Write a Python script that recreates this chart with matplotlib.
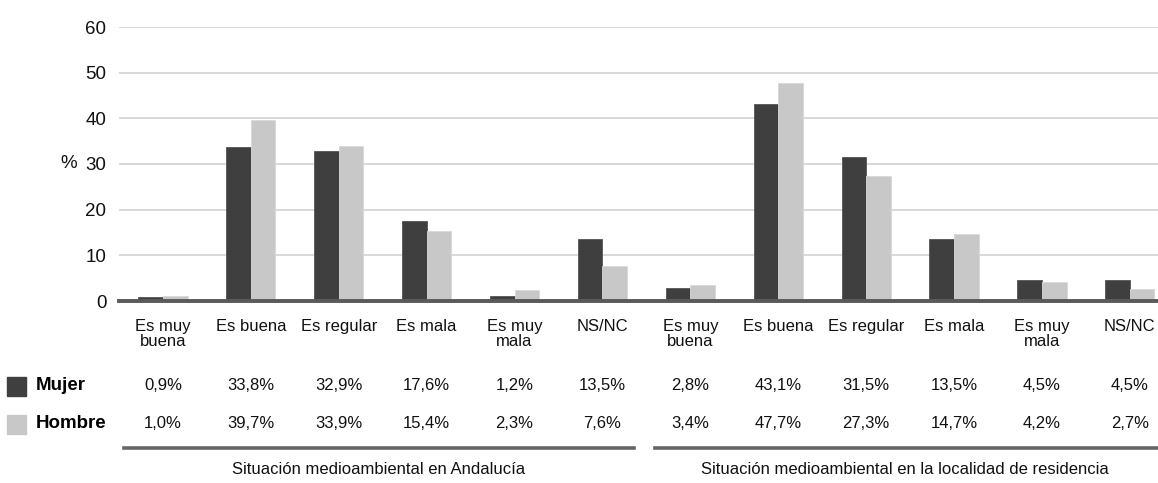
import matplotlib
matplotlib.use("Agg")
import matplotlib.pyplot as plt
import matplotlib.transforms as mtransforms
from matplotlib.patches import Rectangle
from matplotlib.lines import Line2D
import numpy as np

plt.rcParams['font.family'] = ['Liberation Sans', 'DejaVu Sans']

categories = ["Es muy\nbuena", "Es buena", "Es regular", "Es mala", "Es muy\nmala", "NS/NC",
              "Es muy\nbuena", "Es buena", "Es regular", "Es mala", "Es muy\nmala", "NS/NC"]
mujer = [0.9, 33.8, 32.9, 17.6, 1.2, 13.5, 2.8, 43.1, 31.5, 13.5, 4.5, 4.5]
hombre = [1.0, 39.7, 33.9, 15.4, 2.3, 7.6, 3.4, 47.7, 27.3, 14.7, 4.2, 2.7]
series_names = ["Mujer", "Hombre"]
group_labels = ["Situación medioambiental en Andalucía",
                "Situación medioambiental en la localidad de residencia"]
yticks = [0, 10, 20, 30, 40, 50, 60]

DARK = "#3f3f3f"
LIGHT = "#c8c8c8"
TXT = "#111111"

W, H = 1158, 483
fig = plt.figure(figsize=(W / 100, H / 100), dpi=100)
ax_left = 119 / W
ax_bottom = 1 - 301 / H
ax_top = 1 - 27 / H
ax = fig.add_axes([ax_left, ax_bottom, 1 - ax_left, ax_top - ax_bottom])

x = np.arange(len(categories))
bw = 0.28
ax.bar(x - bw / 2, mujer, bw, color=DARK, edgecolor="#555555", linewidth=0.6, zorder=3)
ax.bar(x + bw / 2, hombre, bw, color=LIGHT, edgecolor="#d8d8d8", linewidth=0.6, zorder=3)

spacing_px = 87.9
ax.set_xlim(-0.5, -0.5 + (W - 119) / spacing_px)
ax.set_ylim(0, 60)
ax.set_yticks(yticks)
ax.set_yticklabels([str(v) for v in yticks], fontsize=13.5, color=TXT)
ax.tick_params(axis='y', length=0, pad=9)
ax.set_xticks([])
for s in ax.spines.values():
    s.set_visible(False)
ax.grid(axis='y', color="#d6d6d6", linewidth=1.3, zorder=0)
ax.axhline(0, color="#5a5a5a", linewidth=2.8, zorder=4, clip_on=False)
ax.set_axisbelow(True)

fig.text(69 / W, 1 - 164 / H, "%", fontsize=13.5, ha="center", va="center", color=TXT)

trans = mtransforms.blended_transform_factory(ax.transData, fig.transFigure)

for i, c in enumerate(categories):
    ax.text(i, 1 - 319 / H, c, transform=trans, ha="center", va="top", fontsize=12,
            linespacing=0.98, color=TXT)

def fmt(v):
    return f"{v:.1f}".replace(".", ",") + "%"

row_y = [1 - 386 / H, 1 - 424 / H]
for vals, yy in zip([mujer, hombre], row_y):
    for i, v in enumerate(vals):
        ax.text(i, yy, fmt(v), transform=trans, ha="center", va="center", fontsize=12,
                color=TXT)

# legend keys in the data table
for name, col, yy in zip(series_names, [DARK, LIGHT], row_y):
    fig.patches.append(Rectangle((7 / W, yy - 9.5 / H), 19 / W, 19 / H,
                                 transform=fig.transFigure, color=col))
    fig.text(36 / W, yy, name, fontsize=13.5, fontweight="bold", ha="left", va="center",
             color="#000000")

# group separators
ly = 1 - 448 / H
fig.add_artist(Line2D([124 / W, 634 / W], [ly, ly], transform=fig.transFigure,
                      color="#666666", linewidth=2.6))
fig.add_artist(Line2D([655 / W, 1.0], [ly, ly], transform=fig.transFigure,
                      color="#666666", linewidth=2.6))

gy = 1 - 470 / H
fig.text(379 / W, gy, group_labels[0], fontsize=12, ha="center", va="center", color=TXT)
fig.text(905 / W, gy, group_labels[1], fontsize=12, ha="center", va="center", color=TXT)

fig.savefig("out.png", dpi=100)
